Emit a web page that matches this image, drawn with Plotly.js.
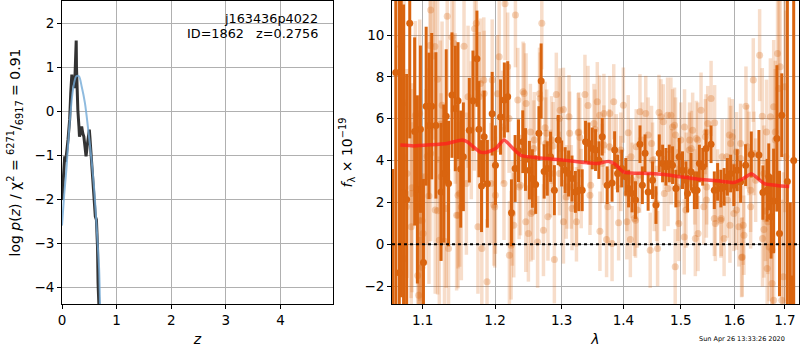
<!DOCTYPE html>
<html><head><meta charset="utf-8">
<script src="https://cdn.plot.ly/plotly-3.0.1.min.js"></script>
<style>html,body{margin:0;padding:0;background:#fff}</style>
</head><body>
<div id="chart" style="width:800px;height:350px"></div>
<script>
// ---- p(z) panel ----
const zBlack = [0,0.03,0.05,0.06,0.08,0.11,0.14,0.16,0.18,0.19,0.21,0.23,0.245,0.26,0.265,0.28,0.29,0.31,0.32,0.34,0.36,0.38,0.40,0.42,0.44,0.46,0.50,0.51,0.54,0.57,0.59,0.61,0.63,0.65,0.66,0.675];
const pBlack = [-2.02,-1.48,-1.03,-1.15,-1.0,-0.65,-0.2,0.41,0.83,0.64,0.79,0.52,1.45,1.6,1.0,0.33,0.03,-0.35,-0.58,-0.5,-0.35,-0.5,-0.58,-0.80,-1.03,-0.80,-0.42,-0.58,-1.18,-1.71,-1.94,-2.39,-2.47,-3.08,-3.91,-4.4];
const zBlue = [0,0.04,0.08,0.14,0.2,0.26,0.31,0.36,0.42,0.48,0.54,0.59,0.63,0.68,0.695];
const pBlue = [-2.6,-1.9,-1.33,-0.27,0.48,0.79,0.79,0.56,0.18,-0.42,-1.1,-1.79,-2.55,-3.6,-4.4];
const zTicks = [0,1,2,3,4];
const pTicks = [-4,-3,-2,-1,0,1,2];

// ---- spectrum panel: binned (dark) points ----
const darkLam = [1.061,1.065,1.0695,1.072,1.075,1.079,1.083,1.0894,1.093,1.097,
1.101,1.1046,1.1083,1.112,1.1176,1.1245,1.1282,1.1315,1.1347,1.1394,
1.144,1.1477,1.1514,1.1551,1.1634,1.1685,1.1741,1.1769,1.1806,1.1843,
1.1889,1.1958,1.2005,1.2079,1.2134,1.2183,1.2238,1.2292,1.2342,1.2406,
1.2446,1.2505,1.255,1.2599,1.2649,1.2683,1.2728,1.2777,1.2827,1.2886,
1.2946,1.3,1.3054,1.3108,1.3162,1.3216,1.327,1.3324,1.3378,1.3432,
1.3486,1.354,1.3594,1.3649,1.373,1.3811,1.3854,1.3903,1.3973,1.4041,
1.4088,1.4147,1.4206,1.4282,1.4323,1.437,1.4423,1.45,1.4559,1.4617,
1.4676,1.4735,1.4794,1.4853,1.4912,1.4971,1.5031,1.5093,1.5123,1.5185,
1.5247,1.5296,1.5339,1.5401,1.5463,1.5556,1.5617,1.5679,1.5741,1.5802,
1.5864,1.5926,1.5988,1.6052,1.6118,1.6216,1.6327,1.6477,1.6556,1.664,
1.6673,1.6719,1.6771,1.6837,1.689,1.6935,1.705,1.711,1.714,1.718];
const darkF = [-4,8.21,-1.36,9.46,2.46,2.14,10.56,5.39,2.62,5.50,
-0.88,6.60,5.66,6.60,5.68,2.50,3.38,6.12,2.90,7.13,
6.49,6.86,3.59,4.18,5.45,6.86,8.87,5.50,2.78,5.14,
2.89,6.24,3.78,6.08,6.89,7.05,1.50,3.62,4.47,4.90,
4.05,3.54,3.14,2.85,5.30,7.80,3.48,3.62,4.18,2.58,
4.98,3.86,3.54,3.38,3.14,2.50,2.58,2.58,4.90,4.82,
4.58,4.50,4.02,5.14,2.82,2.93,4.50,3.38,3.62,3.22,
2.66,2.42,2.11,4.78,2.82,4.35,2.50,3.06,1.87,4.35,
3.86,3.70,3.86,3.78,2.66,4.18,3.54,3.06,2.42,3.46,
2.58,2.58,3.86,3.70,4.58,4.78,2.58,2.98,2.66,2.74,
3.22,3.38,2.82,3.54,2.98,3.78,4.29,4.26,2.47,2.58,
3.22,1.31,2.07,5.06,0.51,6.17,3,-4,-5,4];
const darkErr = [7.6,12,13,12,9,6,5.5,4.5,4.5,4,
4,3.8,3.5,3.5,3.5,3.3,3.3,3.2,3,3,
3,2.8,2.8,2.6,2.5,2.4,2.3,2.3,2.2,2.2,
2.1,2.0,1.9,1.8,1.8,1.7,1.6,1.6,1.5,1.5,
1.5,1.4,1.4,1.4,1.3,1.8,1.3,1.3,1.2,1.2,
1.2,1.1,1.1,1.1,1.1,1.0,1.0,1.0,1.0,1.0,
1.0,1.0,0.9,0.9,0.9,0.9,0.9,0.9,0.9,0.9,
0.9,0.9,0.9,0.9,0.9,0.9,0.9,0.9,0.9,0.9,
0.9,0.9,0.9,0.9,0.9,0.9,0.9,0.9,0.9,0.9,
0.9,0.9,0.9,0.9,0.9,0.9,0.9,0.9,0.9,0.9,
0.9,0.9,1,1,1,1,1.1,1.2,1.3,1.5,
1.6,2,2.5,3.5,3,2,15,6,3.5,15];

// ---- spectrum panel: unbinned (light) points ----
const lightLam = [1.076,1.0786,1.0794,1.085,1.0859,1.0934,1.0947,1.095,1.0969,1.0991,
1.1005,1.1042,1.1083,1.1097,1.1106,1.1162,1.1199,1.1222,1.1259,1.1292,
1.1329,1.1347,1.1394,1.1421,1.1458,1.15,1.1523,1.156,1.1593,1.1616,
1.1662,1.1708,1.1732,1.1755,1.1792,1.181,1.1838,1.1884,1.194,1.1995,
1.2035,1.2059,1.2109,1.2144,1.2183,1.2208,1.2233,1.2272,1.2297,1.2332,
1.2371,1.2411,1.2455,1.249,1.253,1.2579,1.2629,1.2693,1.2718,1.2752,
1.2787,1.2827,1.2886,1.2916,1.2975,1.3027,1.3081,1.3124,1.3162,1.3233,
1.327,1.3308,1.3368,1.3417,1.346,1.3514,1.3568,1.3611,1.3649,1.3676,
1.372,1.3774,1.3811,1.3839,1.3882,1.392,1.3957,1.4,1.4059,1.4118,
1.4147,1.4206,1.4235,1.4282,1.4323,1.4382,1.4459,1.45,1.4529,1.4588,
1.4647,1.4706,1.4764,1.4823,1.4853,1.49,1.4941,1.5,1.5062,1.5093,
1.5154,1.5216,1.5265,1.5309,1.537,1.542,1.5463,1.5494,1.5556,1.5617,
1.5679,1.5741,1.5802,1.5864,1.5926,1.5988,1.6039,1.6085,1.6137,1.6183,
1.6222,1.6281,1.6314,1.6366,1.6412,1.6491,1.6549,1.6576,1.6608,1.6641,
1.668,1.6706,1.6739,1.6772,1.6804,1.685,1.6876,1.6903,1.6935,1.6968,
1.7,1.702,1.2658,1.2668,1.2743,1.2767,1.2842,1.2866,1.2965,1.3027,
1.3114,1.326,1.3287,1.353,1.252,1.2569,1.2965,1.307,1.3151,1.3233,
1.3449,1.2559,1.3606,1.3676,1.4082,1.4423,1.4612,1.4688,1.3768,1.3957,
1.4129,1.4218,1.4482,1.4571,1.3741,1.4059,1.4188,1.4276,1.4888,1.4906,
1.5068,1.516,1.5191,1.5284,1.545,1.5623,1.5765,1.5851,1.5901,1.4771,
1.4947,1.4965,1.5315,1.5469,1.5636,1.5747,1.5913,1.5475,1.5253,1.4829,
1.5099,1.1773,1.1843,1.1958,1.1704,1.2203,1.2426,1.2005,1.1982,1.2129,
1.2252,1.2451,1.2352,1.1144,1.1199,1.0757,1.0903,1.0961,1.1236,1.144,
1.106,1.1106,1.0728,1.0847,1.1245,1.1477,1.0961,1.1477,1.1167,1.1315,
1.0991,1.6543,1.6628,1.6804,1.5957,1.6118,1.6249,1.6039,1.6379,1.6118,
1.6576,1.6314,1.6654,1.617,1.615,1.6739,1.6772,1.5988];
const lightF = [-0.70,1.79,3.38,0.83,2.7,-1.5,-2.44,1.15,0.19,-1.1,
0.51,3.22,2.3,9.5,11.2,9.45,1.6,0.19,6.65,0.14,
10.9,-0.2,9.9,9.6,1.39,2.42,1.78,9.47,2.9,7.05,
5.45,10.3,10.56,0.83,7.69,-0.2,7.85,-1.8,2.9,1.78,
7.2,8.96,5.6,11.5,8.48,-0.53,-0.05,0.91,10.96,6.89,
2.82,7.29,6.73,0.51,1.47,4.98,0.11,10.56,0.67,4.82,
1.31,3.38,-0.73,7.16,6.41,1.07,2.74,5.3,1.71,1.07,
5.37,2.66,7.16,6.63,2.82,5.77,6.81,0.62,3.86,4.74,
0.22,6.25,0.03,6.81,4.42,1.02,3.38,6.65,2.42,0.22,
3.06,1.15,1.63,6.33,4.98,6.25,-0.29,4.02,2.42,-0.21,
6.09,2.42,6.17,6.17,5.61,-1.08,2.74,4.98,0.35,1.63,
4.5,5.45,0.27,4.98,6.41,1.79,5.37,5.77,6.97,1.23,
2.74,1.15,0.27,2.11,4.82,3.70,1.63,0.83,-0.64,0.43,
6.6,4.34,1.79,7.85,3.06,9.04,0.27,0.70,1.59,-1.16,
-0.13,6.09,-0.29,6.57,4.98,9.12,7.45,8.48,-2.68,-1.56,
7.53,4.18,7.2,6.97,5.57,5.3,4.98,4.7,6.01,6.44,
6.09,5.33,5.1,5.5,5.37,4.58,3.38,2.26,2.74,1.79,
2.34,1.55,6.17,6.25,5.33,5.22,6.3,5.85,4.66,4.5,
4.18,4.66,4.82,1.95,1.79,1.07,1.23,3.3,5.69,5.22,
5.61,4.98,4.58,5.06,5.14,5.81,4.18,4.18,5.22,2.66,
1.95,0.99,0.51,2.11,0.99,1.23,0.91,2.74,2.74,3.7,
3.54,7.05,7.21,7.85,6.81,6.01,7.21,2.34,1.87,2.9,
1.47,1.07,2.74,9.0,7.89,6.76,6.17,6.25,5.74,6.49,
4.21,4.34,2.9,2.42,3.22,2.34,1.79,1.39,1.63,1.71,
1.12,6.12,5.37,5.37,5.14,4.82,4.66,4.42,4.34,4.1,
3.38,2.58,1.07,0.91,-0.61,-1.88,-2.68,1.47];
const lightErr = [5,5,5,5,5,4.5,4.5,4.5,4.5,4.5,
4.2,4.2,4.2,4.2,4.2,4,4,4,4,3.8,
3.8,3.8,3.6,3.6,3.6,3.5,3.5,3.4,3.4,3.4,
3.3,3.3,3.2,3.2,3.1,3.1,3.0,3.0,2.9,2.9,
2.8,2.8,2.7,2.7,2.6,2.6,2.6,2.5,2.5,2.5,
2.4,2.4,2.4,2.3,2.3,2.3,2.2,2.2,2.2,2.2,
2.1,2.1,2.1,2.0,2.0,2.0,2.0,2.0,2.0,1.9,
1.9,1.9,1.9,1.9,1.9,1.9,1.9,1.9,1.9,1.9,
1.8,1.8,1.8,1.8,1.8,1.8,1.8,1.8,1.8,1.8,
1.8,1.8,1.8,1.8,1.8,1.8,1.8,1.8,1.8,1.8,
1.8,1.8,1.8,1.8,1.8,1.8,1.8,1.8,1.8,1.8,
1.8,1.8,1.8,1.8,1.8,1.8,1.8,1.8,1.8,1.8,
1.8,1.8,1.8,1.8,1.8,1.8,1.9,1.9,1.9,1.9,
1.9,2.0,2.0,2.0,2.0,2.2,2.3,2.3,2.4,2.5,
2.6,2.8,2.9,3.2,3.4,4,4.2,4.5,4.8,5,
6,7,2.2,2.2,2.2,2.1,2.1,2.1,2.0,2.0,
2.0,1.9,1.9,1.9,2.3,2.3,2.0,2.0,2.0,1.9,
1.9,2.3,1.9,1.9,1.8,1.8,1.8,1.8,1.8,1.8,
1.8,1.8,1.8,1.8,1.8,1.8,1.8,1.8,1.8,1.8,
1.8,1.8,1.8,1.8,1.8,1.8,1.8,1.8,1.8,1.8,
1.8,1.8,1.8,1.8,1.8,1.8,1.8,1.8,1.8,1.8,
1.8,3.1,3.0,2.9,3.3,2.6,2.4,2.8,2.9,2.7,
2.5,2.4,2.5,4,4,5,4.5,4.5,4,3.6,
4.2,4.2,5,5,4,3.5,4.5,3.5,4,3.8,
4.5,2.3,2.5,3.4,1.8,1.9,2.0,1.9,2.0,1.9,
2.3,2.0,2.5,1.9,1.9,2.9,3.2,1.8];

// ---- model ----
const modelLam = [1.0708,1.088,1.110,1.1327,1.1534,1.1604,1.179,1.188,1.201,1.213,1.226,1.238,1.263,1.303,1.335,1.357,1.376,1.386,1.400,1.412,1.447,1.471,1.500,1.531,1.562,1.599,1.617,1.633,1.658,1.684,1.709];
const modelF = [4.74,4.70,4.75,4.82,4.98,4.90,4.40,4.40,4.58,4.98,4.58,4.24,4.13,4.02,3.91,3.86,3.96,3.83,3.46,3.41,3.38,3.33,3.22,3.11,3.05,2.95,3.14,3.37,2.90,2.81,2.76];
const lamTicks = [1.1,1.2,1.3,1.4,1.5,1.6,1.7];
const lamTickText = ['1.1','1.2','1.3','1.4','1.5','1.6','1.7'];
const fTicks = [-2,0,2,4,6,8,10];
const lamRange = [1.0602, 1.729];

const orange = 'rgb(217,100,15)';
const traces = [
  {x: zBlack, y: pBlack, xaxis:'x', yaxis:'y', mode:'lines', line:{color:'rgba(40,40,40,0.95)', width:3}, hoverinfo:'skip'},
  {x: zBlue, y: pBlue, xaxis:'x', yaxis:'y', mode:'lines', line:{color:'rgba(115,170,215,0.8)', width:2, shape:'spline', smoothing:0.8}, hoverinfo:'skip'},
  {x: lightLam, y: lightF, xaxis:'x2', yaxis:'y2', mode:'markers', type:'scatter',
   marker:{color:'rgba(217,100,15,0.28)', size:7},
   error_y:{type:'data', array: lightErr, visible:true, color:'rgba(217,100,15,0.22)', thickness:3.5, width:0}, hoverinfo:'skip'},
  {x: darkLam, y: darkF, xaxis:'x2', yaxis:'y2', mode:'markers', type:'scatter',
   marker:{color:orange, size:7},
   error_y:{type:'data', array: darkErr, visible:true, color:orange, thickness:3, width:0}, hoverinfo:'skip'},
  {x: lamRange, y: [0,0], xaxis:'x2', yaxis:'y2', mode:'lines', line:{color:'black', width:2, dash:'dot'}, hoverinfo:'skip'},
  {x: modelLam, y: modelF, xaxis:'x2', yaxis:'y2', mode:'lines', line:{color:'rgba(255,30,30,0.75)', width:3.5, shape:'spline', smoothing:0.5}, hoverinfo:'skip'}
];

const ax = {showgrid:true, gridcolor:'#b0b0b0', gridwidth:1, showline:true, linecolor:'black', linewidth:1, mirror:true,
  ticks:'outside', ticklen:4, tickcolor:'black', zeroline:false, tickfont:{size:13.5, color:'black'}};

const layout = {
  width:800, height:350, margin:{l:62, r:1, t:1, b:46},
  paper_bgcolor:'white', plot_bgcolor:'white', showlegend:false,
  font:{family:'DejaVu Sans', size:13.5, color:'black'},
  xaxis: Object.assign({}, ax, {domain:[0,0.3677], range:[0,4.96], tickvals:zTicks, anchor:'y',
    title:{text:'<i>z</i>', font:{size:14}, standoff:6}}),
  yaxis: Object.assign({}, ax, {domain:[0,1], range:[-4.38,2.5], tickvals:pTicks, anchor:'x',
    title:{text:'log <i>p</i>(<i>z</i>) / χ<sup>2</sup> = <sup>6271</sup>/<sub>6917</sub> = 0.91', font:{size:14}, standoff:10}}),
  xaxis2: Object.assign({}, ax, {domain:[0.4478,1], type:'log', range:[Math.log10(lamRange[0]), Math.log10(lamRange[1])],
    tickvals:lamTicks, ticktext:lamTickText, anchor:'y2', title:{text:'<i>λ</i>', font:{size:14}, standoff:6}}),
  yaxis2: Object.assign({}, ax, {domain:[0,1], range:[-2.86,11.63], tickvals:fTicks, anchor:'x2',
    title:{text:'<i>f</i><sub>λ</sub> × 10<sup>−19</sup>', font:{size:14}, standoff:8}}),
  annotations:[
    {xref:'x', yref:'y', x:4.72, y:2.1, text:'j163436p4022', showarrow:false, xanchor:'right', yanchor:'middle', font:{size:12.8}},
    {xref:'x', yref:'y', x:4.72, y:1.757, text:'ID=1862\u00a0\u00a0\u00a0z=0.2756', showarrow:false, xanchor:'right', yanchor:'middle', font:{size:12.8}},
    {xref:'paper', yref:'paper', x:0.9227, y:-0.1155, text:'Sun Apr 26 13:33:26 2020', showarrow:false, xanchor:'center', yanchor:'middle', font:{size:6.5}}
  ]
};
Plotly.newPlot('chart', traces, layout, {staticPlot:true, displayModeBar:false});
</script>
</body></html>
